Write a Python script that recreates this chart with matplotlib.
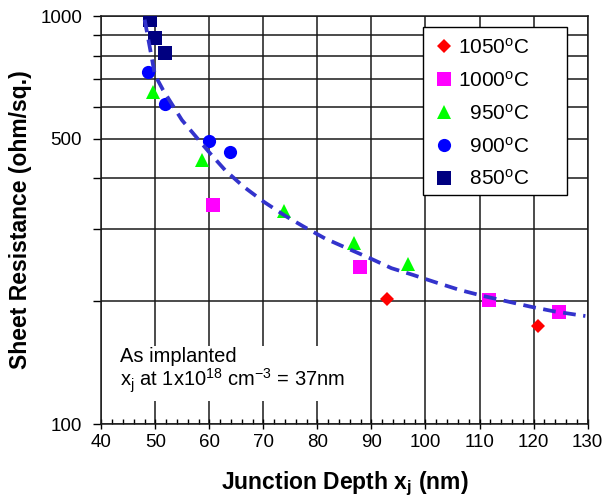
import matplotlib
matplotlib.use("Agg")
import matplotlib.pyplot as plt
from matplotlib.patches import Rectangle
from matplotlib.ticker import FixedLocator, FixedFormatter, MultipleLocator

plt.rcParams.update({
    'font.family': ['Liberation Sans', 'DejaVu Sans'],
    'mathtext.fontset': 'custom',
    'mathtext.rm': 'Liberation Sans',
    'mathtext.it': 'Liberation Sans:italic',
    'mathtext.bf': 'Liberation Sans:bold',
})

# --- data (junction depth nm, sheet resistance ohm/sq)
x_1050 = [92.8, 120.9]
r_1050 = [203, 174]
x_1000 = [60.7, 87.9, 111.8, 124.8]
r_1000 = [344, 242, 201, 188]
x_950 = [49.6, 58.7, 73.8, 86.8, 96.8]
r_950 = [652, 445, 333, 278, 247]
x_900 = [48.7, 51.8, 59.9, 63.8]
r_900 = [730, 609, 495, 465]
x_850 = [49.0, 49.9, 51.8]
r_850 = [978, 882, 813]

# dashed trend line
trend_x = [48.0, 49.9, 51.4, 54.9, 60.1, 62.9, 66.3, 70.0, 74.0, 77.4, 81.4,
           85.4, 89.7, 93.7, 97.7, 102.1, 106.4, 110.7, 115.0, 119.4, 123.7,
           128.3, 129.6]
trend_r = [980, 717, 659, 556, 461, 419, 382, 351, 324, 305, 285,
           270, 255, 241, 232, 222, 213, 206, 200, 194, 189,
           185, 184]

y_ticks = [100, 200, 300, 400, 500, 600, 700, 800, 900, 1000]
y_tick_labels = ['100', '', '', '', '500', '', '', '', '', '1000']
x_ticks = [40, 50, 60, 70, 80, 90, 100, 110, 120, 130]

fig = plt.figure(figsize=(6.04, 5.03), dpi=100)
ax = fig.add_axes([0.168, 0.157, 0.8047, 0.811])

ax.set_yscale('log')
ax.set_xlim(40, 130)
ax.set_ylim(100, 1000)

series = [
    (x_1050, r_1050, 'D', '#ff0000', 7.5, '1050$^{\\mathrm{o}}$C'),
    (x_1000, r_1000, 's', '#ff00ff', 9.5, '1000$^{\\mathrm{o}}$C'),
    (x_950, r_950, '^', '#00ff00', 10.0, '  950$^{\\mathrm{o}}$C'),
    (x_900, r_900, 'o', '#0000ff', 9.5, '  900$^{\\mathrm{o}}$C'),
    (x_850, r_850, 's', '#000080', 9.5, '  850$^{\\mathrm{o}}$C'),
]
for xs, ys, mk, c, ms, lab in series:
    ax.plot(xs, ys, linestyle='none', marker=mk, color=c, markersize=ms,
            markeredgewidth=0, label=lab, zorder=4)

ax.plot(trend_x, trend_r, color='#3333cc', lw=2.7, dashes=(3.4, 2.0),
        zorder=5)

ax.yaxis.set_major_locator(FixedLocator(y_ticks))
ax.yaxis.set_major_formatter(FixedFormatter(y_tick_labels))
ax.yaxis.set_minor_locator(FixedLocator([]))
ax.xaxis.set_major_locator(FixedLocator(x_ticks))
ax.xaxis.set_minor_locator(MultipleLocator(2))

ax.grid(True, which='major', color='#1a1a1a', lw=1.1, zorder=1)
ax.set_axisbelow(True)
for s in ax.spines.values():
    s.set_color('#1a1a1a')
    s.set_linewidth(1.1)

ax.tick_params(axis='y', which='major', direction='out', length=6, width=1,
               pad=8, labelsize=13.5)
ax.tick_params(axis='x', which='major', direction='inout', length=7, width=1,
               pad=4, labelsize=13.5)
ax.tick_params(axis='x', which='minor', direction='in', length=3.5, width=1)

ax.set_xlabel('Junction Depth x$_{\\mathbf{j}}$ (nm)', fontsize=16.5,
              fontweight='bold', labelpad=13)
ax.set_ylabel('Sheet Resistance (ohm/sq.)', fontsize=16.5,
              fontweight='bold', labelpad=6)

ax.text(0.038, 0.07,
        'As implanted\nx$_{\\mathrm{j}}$ at 1x10$^{\\mathrm{18}}$ cm$^{\\mathrm{-3}}$ = 37nm',
        transform=ax.transAxes, fontsize=14.5, va='bottom', ha='left',
        linespacing=1.05, zorder=3,
        bbox=dict(facecolor='white', edgecolor='none', pad=4))

# legend box (wider on the right, as in the original)
ax.add_patch(Rectangle((0.6615, 0.561), 0.2965, 0.412, transform=ax.transAxes,
                       facecolor='white', edgecolor='black', lw=1.0,
                       zorder=5.5, clip_on=False))
leg = ax.legend(loc='upper left', bbox_to_anchor=(0.6615, 0.973),
                fontsize=15, frameon=False, numpoints=1, labelspacing=0.62,
                handletextpad=0.2, borderpad=0.5, handlelength=1.0,
                borderaxespad=0)
leg.set_zorder(6)

fig.savefig('out.png', dpi=100)
